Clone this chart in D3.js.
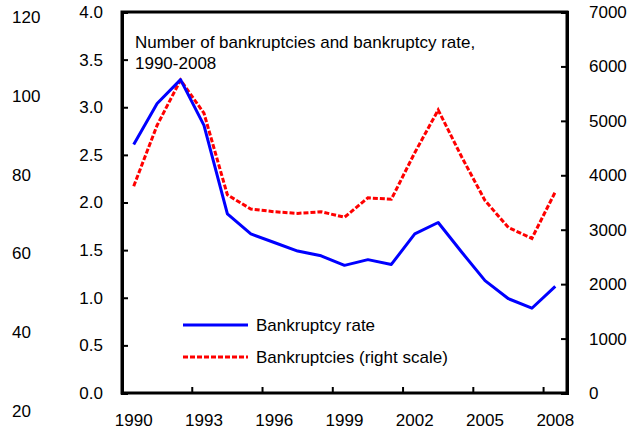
<!DOCTYPE html>
<html>
<head>
<meta charset="utf-8">
<script src="https://cdn.jsdelivr.net/npm/d3@7"></script>
<style>
  body { margin: 0; background: #fff; }
  svg text { font-family: Arial, "Liberation Sans", sans-serif; fill: #000; }
</style>
</head>
<body>
<svg id="chart" width="639" height="439"></svg>
<script>
// data
var years = [1990, 1991, 1992, 1993, 1994, 1995, 1996, 1997, 1998, 1999,
             2000, 2001, 2002, 2003, 2004, 2005, 2006, 2007, 2008];
var rate = [2.61, 3.04, 3.29, 2.81, 1.88, 1.67, 1.58, 1.49, 1.44, 1.34,
            1.40, 1.35, 1.67, 1.79, 1.48, 1.18, 0.99, 0.89, 1.12];
var bankruptcies = [3800, 4920, 5750, 5140, 3640, 3380, 3330, 3300, 3330, 3230,
                    3585, 3560, 4415, 5200, 4340, 3535, 3040, 2840, 3695];
var yearLabels = [1990, 1993, 1996, 1999, 2002, 2005, 2008];
var leftTicks = [0, 0.5, 1, 1.5, 2, 2.5, 3, 3.5, 4];
var rightTicks = [0, 1000, 2000, 3000, 4000, 5000, 6000, 7000];
var extraTicks = [20, 40, 60, 80, 100, 120];
var titleLines = ["Number of bankruptcies and bankruptcy rate,", "1990-2008"];
var legendNames = ["Bankruptcy rate", "Bankruptcies (right scale)"];

var svg = d3.select("#chart");
var plotL = 122, plotR = 567, plotT = 12, plotB = 393;

var x = d3.scaleBand().domain(years).range([plotL, plotR]);
var yL = d3.scaleLinear().domain([0, 4]).range([plotB, plotT]);
var yR = d3.scaleLinear().domain([0, 7000]).range([plotB, plotT]);
var yExtra = d3.scaleLinear().domain([20, 120]).range([411, 17]);

var fs = "17px";

//stray axis on the far left, labels only
var gExtra = svg.append("g")
  .attr("transform", "translate(12,0)")
  .call(d3.axisRight(yExtra).tickValues(extraTicks).tickSize(0).tickPadding(0).tickFormat(d3.format("d")));
gExtra.select(".domain").remove();
gExtra.selectAll("text").style("font-size", fs);

//left axis, ticks inward
var gL = svg.append("g")
  .attr("transform", "translate(" + plotL + ",0)")
  .call(d3.axisLeft(yL).tickValues(leftTicks).tickSize(-6).tickPadding(19).tickFormat(d3.format(".1f")));
gL.selectAll("text").style("font-size", fs);

//right axis, ticks inward
var gR = svg.append("g")
  .attr("transform", "translate(" + plotR + ",0)")
  .call(d3.axisRight(yR).tickValues(rightTicks).tickSize(-6).tickPadding(22).tickFormat(d3.format("d")));
gR.selectAll("text").style("font-size", fs);

//x axis labels at category centres
var gX = svg.append("g")
  .attr("transform", "translate(0," + plotB + ")")
  .call(d3.axisBottom(x).tickValues(yearLabels).tickSize(0).tickPadding(21));
gX.select(".domain").remove();
gX.selectAll("text").style("font-size", fs);

//x tick marks between categories
svg.append("g").selectAll("line")
  .data(yearLabels.slice(1))
  .enter().append("line")
  .attr("x1", d => x(d))
  .attr("x2", d => x(d))
  .attr("y1", plotB)
  .attr("y2", plotB - 6)
  .attr("stroke", "#000")
  .attr("stroke-width", 2);

svg.selectAll(".tick line").attr("stroke-width", 2);

//frame
svg.append("rect")
  .attr("x", plotL)
  .attr("y", plotT)
  .attr("width", plotR - plotL)
  .attr("height", plotB - plotT)
  .attr("fill", "none")
  .attr("stroke", "#000")
  .attr("stroke-width", 3);
svg.selectAll(".domain").attr("stroke-width", 3);

var cx = d => x(d) + x.bandwidth() / 2;

var rateLine = d3.line()
  .x((d, i) => cx(years[i]))
  .y(d => yL(d));
var countLine = d3.line()
  .x((d, i) => cx(years[i]))
  .y(d => yR(d));

svg.append("path")
  .attr("d", countLine(bankruptcies))
  .attr("fill", "none")
  .attr("stroke", "#ff0000")
  .attr("stroke-width", 3)
  .attr("stroke-dasharray", "5,2");

svg.append("path")
  .attr("d", rateLine(rate))
  .attr("fill", "none")
  .attr("stroke", "#0000ff")
  .attr("stroke-width", 3)
  .attr("stroke-linejoin", "round");

//title
svg.append("text")
  .attr("x", 135)
  .attr("y", 48)
  .style("font-size", fs)
  .selectAll("tspan")
  .data(titleLines)
  .enter().append("tspan")
  .attr("x", 135)
  .attr("dy", (d, i) => i == 0 ? 0 : 21)
  .text(d => d);

//legend
var legend = svg.append("g").selectAll("g")
  .data(legendNames)
  .enter().append("g")
  .attr("transform", (d, i) => "translate(183," + (325 + i * 32) + ")");

legend.append("line")
  .attr("x1", 0)
  .attr("x2", 65)
  .attr("stroke", (d, i) => i == 0 ? "#0000ff" : "#ff0000")
  .attr("stroke-width", 3)
  .attr("stroke-dasharray", (d, i) => i == 0 ? null : "5,2");

legend.append("text")
  .attr("x", 73)
  .attr("y", 6)
  .style("font-size", fs)
  .text(d => d);
</script>
</body>
</html>
